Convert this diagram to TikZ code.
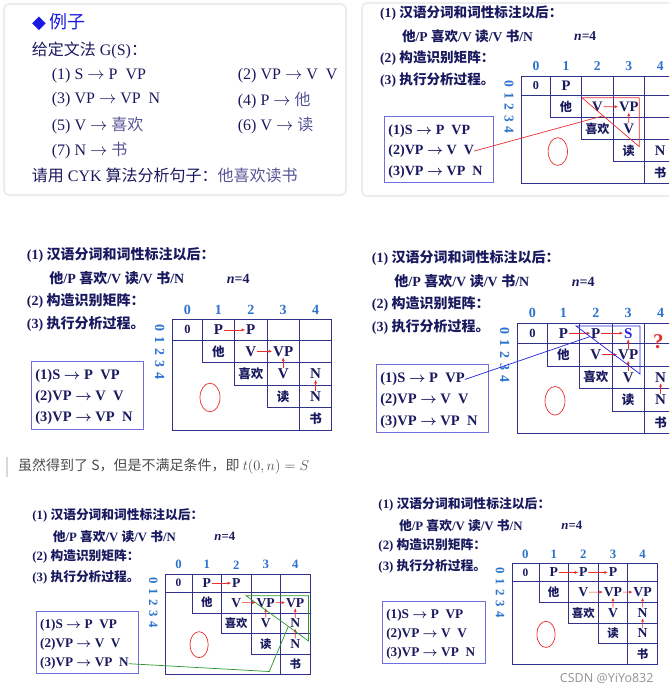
\documentclass[tikz,border=0pt]{standalone}
\usepackage{fontspec}
\setmainfont{Liberation Serif}
\newfontfamily\zhfont{Noto Sans CJK SC}
\newfontfamily\symfont{DejaVu Sans}
\newfontfamily\markfont{Noto Sans}
\usetikzlibrary{arrows.meta, calc}

\definecolor{slidenavy}{RGB}{25,25,95}
\definecolor{gridnavy}{RGB}{50,50,140}
\definecolor{headblue}{RGB}{45,115,205}
\definecolor{boxblue}{RGB}{110,110,220}
\definecolor{markred}{RGB}{235,45,45}
\definecolor{markblue}{RGB}{35,35,225}
\definecolor{markgreen}{RGB}{40,150,40}
\definecolor{titleblue}{RGB}{25,25,225}
\definecolor{wordslate}{RGB}{85,85,150}

\newcommand\zh[1]{{\zhfont #1}}

\tikzset{
  cardline/.style={draw=black!7, line width=2pt, rounded corners=5pt},
  extext/.style={anchor=west, inner sep=0pt, text=slidenavy, font=\fontsize{16}{18}\selectfont},
  steptext/.style={anchor=west, inner sep=0pt, text=slidenavy, font=\bfseries\boldmath\fontsize{14}{16}\selectfont},
  ruletext/.style={anchor=west, inner sep=0pt, text=slidenavy, font=\bfseries\boldmath\fontsize{14.5}{16}\selectfont},
  rulebox/.style={draw=boxblue, line width=0.8pt},
  gridline/.style={draw=gridnavy, line width=0.7pt},
  headnum/.style={inner sep=0pt, text=headblue, font=\bfseries\fontsize{14}{14}\selectfont},
  ent/.style={inner sep=0.8pt, text=slidenavy, font=\bfseries\fontsize{15}{15}\selectfont},
  entzero/.style={inner sep=0.8pt, text=slidenavy, font=\bfseries\fontsize{12.5}{12.5}\selectfont},
  entzh/.style={inner sep=0.8pt, text=slidenavy, font=\bfseries\zhfont\fontsize{12.5}{12.5}\selectfont},
  redarrow/.style={draw=markred, line width=0.6pt, -{Latex[length=3.5pt,width=3pt]}},
  redline/.style={draw=markred, line width=0.7pt},
  blueline/.style={draw=markblue, line width=0.7pt},
  greenline/.style={draw=markgreen, line width=0.7pt},
  notetext/.style={anchor=west, inner sep=0pt, text=black!70, font=\zhfont\fontsize{14}{16}\selectfont}
}

% one slide of the CYK example, origin at the left of step (1)
\newcommand\cykslide[1]{%
  % steps
  \node[steptext] (#1-s1) at (0,0) {(1) \zh{汉语分词和词性标注以后：}};
  \node[steptext] (#1-s2) at (22.5,23.4) {\zh{他}/P \zh{喜欢}/V \zh{读}/V \zh{书}/N};
  \node[steptext] (#1-n) at (200,23.4) {\textit{n}=4};
  \node[steptext] (#1-s3) at (0,45.7) {(2) \zh{构造识别矩阵：}};
  \node[steptext] (#1-s4) at (0,68.5) {(3) \zh{执行分析过程。}};
  % recognition matrix
  \draw[gridline] (146,64.7) rectangle (305.1,175.4);
  \draw[gridline] (146,85) -- (305.1,85);
  \draw[gridline] (175.5,64.7) -- (175.5,107.6) -- (305.1,107.6);
  \draw[gridline] (207.9,64.7) -- (207.9,130.2) -- (305.1,130.2);
  \draw[gridline] (240.3,64.7) -- (240.3,152.8) -- (305.1,152.8);
  \draw[gridline] (272.7,64.7) -- (272.7,175.4);
  \foreach \ci/\xx in {0/160.75,1/191.7,2/224.1,3/256.5,4/288.9}
    \node[headnum] (#1-h\ci) at (\xx,54.7) {\ci};
  \node[headnum, rotate=-90, anchor=west] (#1-v) at (133,69)
    {0\hspace{5pt}1\hspace{5pt}2\hspace{5pt}3\hspace{5pt}4};
  \foreach \ri/\yy in {0/74.85,1/96.3,2/118.9,3/141.5,4/164.1}
    \foreach \ci/\xx in {0/160.75,1/191.7,2/224.1,3/256.5,4/288.9}
      \coordinate (#1c\ri\ci) at (\xx,\yy);
  % grammar rules
  \draw[rulebox] (5,106) rectangle (116.5,174.5);
  \node[ruletext] (#1-r1) at (8.5,121.2) {(1)S $\rightarrow$ P\enspace VP};
  \node[ruletext] (#1-r2) at (8.5,142) {(2)VP $\rightarrow$ V\enspace V};
  \node[ruletext] (#1-r3) at (8.5,163.4) {(3)VP $\rightarrow$ VP\enspace N};
  \draw[redline] (183.3,142.5) ellipse [x radius=10, y radius=14.3];
  % diagonal words
  \node[entzero] (#100) at (#1c00) {0};
  \node[entzh] (#111) at (#1c11) {他};
  \node[entzh] (#122) at (#1c22) {喜欢};
  \node[entzh] (#133) at (#1c33) {读};
  \node[entzh] (#144) at (#1c44) {书};
}

\begin{document}
\begin{tikzpicture}[x=1pt, y=-1pt]
  \useasboundingbox (0,0) rectangle (669,693);
  \clip (0,0) rectangle (669,693);

  \draw[cardline] (4,4) rectangle (346,195);
  \draw[cardline] (362,3) rectangle (680,196);

  % the example grammar
  \node[extext, text=titleblue, font=\fontsize{18}{20}\selectfont] (title) at (32,21.7)
    {{\symfont ◆}\,\zh{例子}};
  \node[extext] (gram) at (31.7,50) {\zh{给定文法} G(S)\zh{：}};
  \node[extext] (p1) at (51.7,76) {(1) S $\rightarrow$ P\enspace VP};
  \node[extext] (p2) at (237.7,76) {(2) VP $\rightarrow$ V\enspace V};
  \node[extext] (p3) at (51.7,100) {(3) VP $\rightarrow$ VP\enspace N};
  \node[extext] (p4) at (237.7,100) {(4) P $\rightarrow$ \textcolor{wordslate}{\zh{他}}};
  \node[extext] (p5) at (51.7,125.7) {(5) V $\rightarrow$ \textcolor{wordslate}{\zh{喜欢}}};
  \node[extext] (p6) at (237.7,125.7) {(6) V $\rightarrow$ \textcolor{wordslate}{\zh{读}}};
  \node[extext] (p7) at (51.7,150.7) {(7) N $\rightarrow$ \textcolor{wordslate}{\zh{书}}};
  \node[extext] (task) at (31.7,175)
    {\zh{请用} CYK \zh{算法分析句子：\textcolor{wordslate}{他喜欢读书}}};

  % slide 1: first steps
  \begin{scope}[shift={(380,13.3)}, scale=0.97, transform shape]
    \cykslide{B}
    \foreach \rc/\txt in {01/P,12/V,13/VP,23/V,34/N}
      \node[ent] (B\rc) at (Bc\rc) {\txt};
    \draw[redarrow] (B12) -- (B13);
    \draw[redarrow] (B23) -- (B13);
    \coordinate (Bta) at (208.2,87);
    \coordinate (Btb) at (267.3,87);
    \coordinate (Btc) at (267.3,137.5);
    \draw[redline] (Bta) -- (Btb) -- (Btc) -- cycle;
    \coordinate (Bhit) at ($(Bta)!0.37!(Btc)$);
    \draw[redline] (B-r2.east) -- (Bhit);
  \end{scope}

  % slide 2
  \begin{scope}[shift={(26.7,255)}, transform shape]
    \cykslide{C}
    \foreach \rc/\txt in {01/P,02/P,12/V,13/VP,23/V,24/N,34/N}
      \node[ent] (C\rc) at (Cc\rc) {\txt};
    \foreach \a/\b in {01/02,12/13,23/13,34/24}
      \draw[redarrow] (C\a) -- (C\b);
  \end{scope}

  % slide 3: S found
  \begin{scope}[shift={(371.7,258.3)}, transform shape]
    \cykslide{D}
    \foreach \rc/\txt in {01/P,02/P,12/V,13/VP,23/V,24/N,34/N}
      \node[ent] (D\rc) at (Dc\rc) {\txt};
    \node[ent, text=markblue] (D03) at (Dc03) {S};
    \node[ent, text=markred, font=\bfseries\fontsize{21}{21}\selectfont] (Dq) at (286.6,83.4) {?};
    \foreach \a/\b in {01/02,02/03,12/13,13/03,23/13,34/24}
      \draw[redarrow] (D\a) -- (D\b);
    \coordinate (Dta) at (204.3,67.7);
    \coordinate (Dtb) at (268.3,67.7);
    \coordinate (Dtc) at (268.3,115.7);
    \draw[blueline] (Dta) -- (Dtb) -- (Dtc) -- cycle;
    \coordinate (Dhit) at ($(Dta)!0.22!(Dtc)$);
    \draw[blueline] (D-r1.east) -- (Dhit);
  \end{scope}

  % remark
  \draw[black!15, line width=2.5pt] (7,457) -- (7,477);
  \node[notetext] (note) at (18,466) {虽然得到了 S，但是不满足条件，即 $t(0,n)=S$};

  % slide 4
  \begin{scope}[shift={(32.3,515)}, scale=0.91, transform shape]
    \cykslide{E}
    \foreach \rc/\txt in {01/P,02/P,12/V,13/VP,14/VP,23/V,24/N,34/N}
      \node[ent] (E\rc) at (Ec\rc) {\txt};
    \foreach \a/\b in {01/02,12/13,13/14,23/13,24/14,34/24}
      \draw[redarrow] (E\a) -- (E\b);
    \coordinate (Eta) at (234.8,88.7);
    \coordinate (Etb) at (303.6,88.7);
    \coordinate (Etc) at (303.6,138.5);
    \draw[greenline] (Eta) -- (Etb) -- (Etc) -- cycle;
    \coordinate (Ehit) at ($(Eta)!0.676!(Etc)$);
    \coordinate (Ebend) at (260.4,172);
    \draw[greenline] (E-r3.east) -- (Ebend) -- (Ehit);
  \end{scope}

  % slide 5
  \begin{scope}[shift={(378.3,504)}, scale=0.915, transform shape]
    \cykslide{F}
    \draw[gridline, line width=1.2pt] (240.3,64.7) -- (240.3,152.8) -- (305.1,152.8);
    \foreach \rc/\txt in {01/P,02/P,03/P,12/V,13/VP,14/VP,23/V,24/N,34/N}
      \node[ent] (F\rc) at (Fc\rc) {\txt};
    \foreach \a/\b in {01/02,02/03,12/13,13/14,23/13,24/14,34/24}
      \draw[redarrow] (F\a) -- (F\b);
  \end{scope}

  \node[text=black!40, font=\markfont\fontsize{12.5}{14}\selectfont] (mark) at (606.7,678.3) {CSDN @YiYo832};
\end{tikzpicture}
\end{document}
